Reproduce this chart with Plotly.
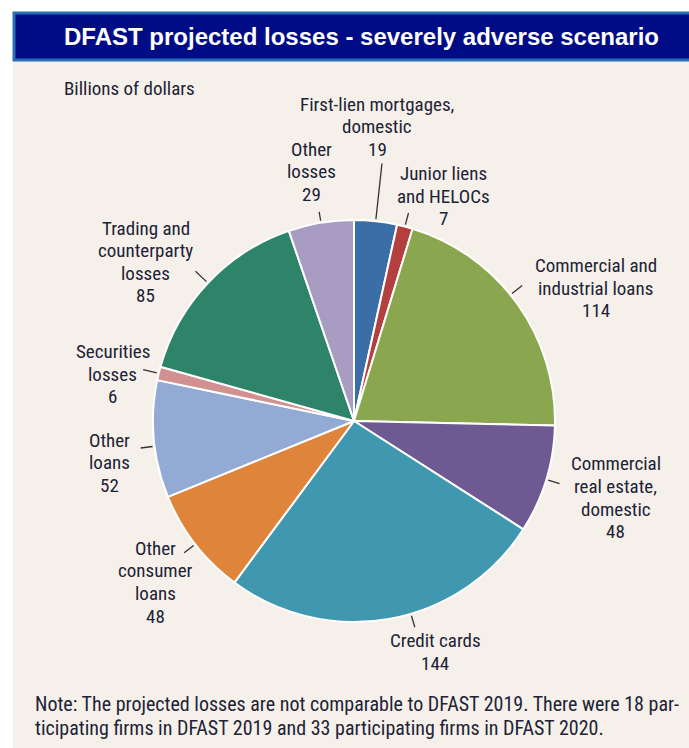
import math
import plotly.graph_objects as go

# ---- data ----
categories = [
    "First-lien mortgages, domestic",
    "Junior liens and HELOCs",
    "Commercial and industrial loans",
    "Commercial real estate, domestic",
    "Credit cards",
    "Other consumer loans",
    "Other loans",
    "Securities losses",
    "Trading and counterparty losses",
    "Other losses",
]
label_lines = [
    ["First-lien mortgages,", "domestic"],
    ["Junior liens", "and HELOCs"],
    ["Commercial and", "industrial loans"],
    ["Commercial", "real estate,", "domestic"],
    ["Credit cards"],
    ["Other", "consumer", "loans"],
    ["Other", "loans"],
    ["Securities", "losses"],
    ["Trading and", "counterparty", "losses"],
    ["Other", "losses"],
]
values = [19, 7, 114, 48, 144, 48, 52, 6, 85, 29]

# ---- style ----
colors = ["#3b6ea6", "#b3403f", "#8aa74f", "#6e5992", "#3f98b0",
          "#df843b", "#92aad4", "#d39090", "#2e8469", "#a99cc2"]
label_radius = [295, 242, 276, 273, 245, 256, 248, 246, 262, 253]
label_nudge = [-1.7, 7.1, 7.1, -0.6, -8.9, -1.2, -4.5, -2.7, -6.0, -0.3]
leader_nudge = [0, 0, -3, 0, -6, 0, -2, 0, 0, 0]
leader_len = [56, 12, 13, 12, 12, 12, 12, 14, 15, 9]

W, H = 689, 748
CX, CY, R = 354, 421, 201
BG = "#f5f1ea"
TXT = "#222236"
FONT = "Roboto Condensed, Liberation Sans Narrow, Arial Narrow, Roboto, sans-serif"
LINE_H = 22.6
LABEL_SIZE = 19


def px(x):
    return x / W


def py(y):
    return 1 - y / H


fig = go.Figure()
fig.add_trace(go.Pie(
    values=values, labels=categories, sort=False, direction="clockwise",
    rotation=0, textinfo="none", textposition="none", showlegend=False,
    marker=dict(colors=colors, line=dict(color="white", width=2)),
    domain=dict(x=[px(CX - R), px(CX + R)], y=[py(CY + R), py(CY - R)]),
    hoverinfo="label+value",
))

shapes = []
annotations = []

# panel background
shapes.append(dict(type="rect", xref="paper", yref="paper",
                   x0=px(13), x1=px(W + 5), y0=py(H + 5), y1=py(60),
                   fillcolor=BG, line=dict(width=0), layer="below"))
# title bar
shapes.append(dict(type="rect", xref="paper", yref="paper",
                   x0=px(14), x1=px(W + 5), y0=py(60), y1=py(13),
                   fillcolor="#000c85", line=dict(color="#2a6cb6", width=3),
                   layer="below"))
annotations.append(dict(text="<b>DFAST projected losses - severely adverse scenario</b>",
                        xref="paper", yref="paper", x=px(362), y=py(37),
                        xanchor="center", yanchor="middle", showarrow=False,
                        font=dict(family="Liberation Sans, Arial, sans-serif",
                                  size=24, color="white")))
annotations.append(dict(text="Billions of dollars", xref="paper", yref="paper",
                        x=px(62), y=py(88), xanchor="left", yanchor="middle",
                        showarrow=False, font=dict(family=FONT, size=19, color=TXT)))
note_lines = ["Note: The projected losses are not comparable to DFAST 2019. There were 18 par-",
              "ticipating firms in DFAST 2019 and 33 participating firms in DFAST 2020."]
for i, ln in enumerate(note_lines):
    annotations.append(dict(text=ln, xref="paper", yref="paper",
                            x=px(33), y=py(704 + i * 23.5), xanchor="left",
                            yanchor="middle", showarrow=False,
                            font=dict(family=FONT, size=20, color=TXT)))

total = sum(values)
cum = 0
for i, v in enumerate(values):
    mid = (cum + v / 2) / total * 360
    cum += v
    # leader line
    a = math.radians(mid + leader_nudge[i])
    r1, r2 = R + 2, R + 2 + leader_len[i]
    shapes.append(dict(type="line", xref="paper", yref="paper",
                       x0=px(CX + r1 * math.sin(a)), y0=py(CY - r1 * math.cos(a)),
                       x1=px(CX + r2 * math.sin(a)), y1=py(CY - r2 * math.cos(a)),
                       line=dict(color="#333333", width=1.3)))
    # label block
    b = math.radians(mid + label_nudge[i])
    lx = CX + label_radius[i] * math.sin(b)
    ly = CY - label_radius[i] * math.cos(b)
    lines = label_lines[i] + [str(v)]
    n = len(lines)
    for j, t in enumerate(lines):
        yy = ly + (j - (n - 1) / 2) * LINE_H
        annotations.append(dict(text=t, xref="paper", yref="paper",
                                x=px(lx), y=py(yy), xanchor="center",
                                yanchor="middle", showarrow=False,
                                font=dict(family=FONT, size=LABEL_SIZE, color=TXT)))

fig.update_layout(width=W, height=H, margin=dict(l=0, r=0, t=0, b=0),
                  paper_bgcolor="white", plot_bgcolor="white",
                  shapes=shapes, annotations=annotations)
fig.write_html("out.html")
